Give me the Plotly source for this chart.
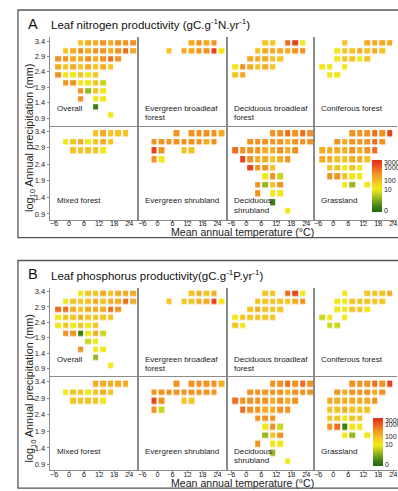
import numpy as np
import plotly.graph_objects as go

W, H = 398, 491

# ---------------- data ----------------
TEMP_BINS = [-4.5, -1.5, 1.5, 4.5, 7.5, 10.5, 13.5, 16.5, 19.5, 22.5, 25.5]   # mean annual temperature bin centres (°C)
PRECIP_BINS = [3.33, 3.07, 2.81, 2.55, 2.29, 2.03, 1.77, 1.51, 1.25, 0.99]     # log10 annual precipitation bin centres (top -> bottom)
X_TICKS = [-6, 0, 6, 12, 18, 24]
Y_TICKS = [0.9, 1.4, 1.9, 2.4, 2.9, 3.4]
Y_TICK_TEXT = ["0.9", "1.4", "1.9", "2.4", "2.9", "3.4"]
CBAR_VALUES = [0, 10, 100, 1000, 3000]
CBAR_LABELS = ["0", "10", "100", "1000", "3000"]

# productivity (code -> value)
LEVELS = {"R": 2500, "r": 750, "O": 330, "o": 160, "a": 70, "Y": 12, "y": 6, "g": 3, "G": 0.5}

BIOME_LABELS = [["Overall"], ["Evergreen broadleaf", "forest"], ["Deciduous broadleaf", "forest"],
                ["Coniferous forest"], ["Mixed forest"], ["Evergreen shrubland"],
                ["Deciduous", "shrubland"], ["Grassland"]]

# ---- A: leaf nitrogen productivity (rows = precipitation bins top->bottom, cols = temperature bins)
N_OVERALL = ["...aooOoOOO", ".aoOoOOoOro", "OOooOoOrO..", "oaoaoaoa...", "OYYaYa.....",
             ".OOYYay....", "...OgaY....", "...O.YY....", ".....G.....", ".......Y..."]
N_EBF = ["......oOoO.", "...a.ooOORY", "...........", "...........", "...........",
         "...........", "...........", "...........", "...........", "..........."]
N_DBF = ["....aa.rRY.", "...aooooOO.", "..oooaa....", "YOoaoa.....", "ao.........",
         "...........", "...........", "...........", "...........", "..........."]
N_CF = ["...a..oooo.", "..Yaaoaoa..", "..YaaYa....", "YY.Y.......", ".YY........",
        "...........", "...........", "...........", "...........", "..........."]
N_MF = [".....aoaaa.", ".YaoYaoa...", "..aaaaY....", "...........", "...........",
        "...........", "...........", "...........", "...........", "..........."]
N_ES = ["....O.OOOOo", ".OOOOOOOoO.", ".RO..aa....", ".OY........", "...........",
        "...........", "...........", "...........", "...........", "..........."]
N_DS = [".....OOrOrO", "..OOOOOoOOO", "rOOOooOoO..", ".ROooaoO...", "..ROOa.....",
        "....YOy....", "...OgaO....", "...O.YY....", ".....G.....", ".......Y..."]
N_GL = ["....OOOrOR.", "..OoOOOrO..", "ooooOoOr...", "ooaaooa....", ".aaYaY.....",
        ".OOaYY.....", "...Yg.Y....", "...........", "...........", "..........."]

# ---- B: leaf phosphorus productivity
P_OVERALL = ["...Yaaoaooo", ".Yaaaoaooro", "rroaooorO..", "Yaaoaaaa...", "YaYaYa.....",
             ".OOGYoy....", "....yY.....", "...O.YY....", ".....g.....", ".......Y..."]
P_EBF = ["......aoao.", "...a.aaooRY", "...........", "...........", "...........",
         "...........", "...........", "...........", "...........", "..........."]
P_DBF = ["....aa.rRY.", "...aaaaaoO.", "..aoaaa....", "Yaaaaa.....", "aY.........",
         "...........", "...........", "...........", "...........", "..........."]
P_CF = ["...Y..aaao.", "..YYaaaaa..", "..YYaaY....", "yY.Y.......", ".yy........",
        "...........", "...........", "...........", "...........", "..........."]
P_MF = [".....ooooo.", ".YaaYaoa...", "..aaaaY....", "...........", "...........",
        "...........", "...........", "...........", "...........", "..........."]
P_ES = ["....O.OOOOo", ".OOOOOOOOO.", ".RO..aa....", ".Oy........", "...........",
        "...........", "...........", "...........", "...........", "..........."]
P_DS = [".....OOrOrO", "..OOOOOoOOO", "rOOOOoOoO..", ".rOOooOO...", "...OOO.....",
        "....YOy....", "....gaO....", "...O.YY....", ".....g.....", ".......Y..."]
P_GL = ["....OOOrOR.", "..OoOOOoO..", ".ooooooO...", ".aaoaaa....", ".aaYaa.....",
        ".OrGYY.....", "...Yg.Y....", "...........", "...........", "..........."]

PANELS = [
    dict(letter="A", title="Leaf nitrogen productivity (gC.g<sup>-1</sup>N.yr<sup>-1</sup>)",
         grids=[N_OVERALL, N_EBF, N_DBF, N_CF, N_MF, N_ES, N_DS, N_GL]),
    dict(letter="B", title="Leaf phosphorus productivity(gC.g<sup>-1</sup>P.yr<sup>-1</sup>)",
         grids=[P_OVERALL, P_EBF, P_DBF, P_CF, P_MF, P_ES, P_DS, P_GL]),
]

# ---------------- colour mapping ----------------
KNOT_LOG = np.log10(1 + np.array(CBAR_VALUES, dtype=float))
KNOT_POS = [0.03, 0.44, 0.61, 0.86, 0.945]


def cpos(v):
    return float(np.interp(np.log10(1 + v), KNOT_LOG, KNOT_POS))


COLORSCALE = [[0.0, "#1f6a0e"], [0.1, "#3c7f12"], [0.25, "#8db01e"], [0.36, "#cad51e"],
              [0.44, "#f3ea18"], [0.55, "#f6cf22"], [0.62, "#f6b623"], [0.72, "#f39a21"],
              [0.83, "#ee6d1e"], [0.93, "#e8431c"], [1.0, "#e3301a"]]

FONT = "Liberation Sans, Arial, sans-serif"


def px_x(x):
    return x / W


def px_y(y):
    return 1 - y / H


# ---------------- layout geometry ----------------
COL_LEFT = [49.7, 138.3, 227.2, 314.5, W]
X_PX_PER_DEG = 2.51
X_MIN = -7.8
ROW_PX = [(37.0, 125.5), (125.5, 219.5)]
ROW_RANGE = [(0.657, 3.53), (0.734, 3.566)]
PANEL_OFFSET = [0.0, 250.5]

fig = go.Figure()
layout = dict(width=W, height=H, margin=dict(l=0, r=0, t=0, b=0),
              paper_bgcolor="white", plot_bgcolor="rgba(0,0,0,0)",
              showlegend=False, font=dict(family=FONT, color="#222"))
annotations = []
shapes = []

LINE_COL = "#8a8a8a"

for pi, panel in enumerate(PANELS):
    off = PANEL_OFFSET[pi]
    for si, grid in enumerate(panel["grids"]):
        r, c = divmod(si, 4)
        k = pi * 8 + si + 1
        xa = "x" if k == 1 else f"x{k}"
        ya = "y" if k == 1 else f"y{k}"
        z = [[(cpos(LEVELS[ch]) if ch != "." else None) for ch in row] for row in grid]
        show = (si == 7)
        cb = None
        if show:
            if pi == 0:
                cb = dict(x=px_x(372), y=px_y(186), len=52)
            else:
                cb = dict(x=px_x(373), y=px_y(442), len=48)
            cb.update(xanchor="left", yanchor="middle", xpad=0, ypad=0, lenmode="pixels",
                      thickness=10, thicknessmode="pixels", outlinewidth=0,
                      tickvals=[cpos(v) for v in CBAR_VALUES], ticktext=CBAR_LABELS,
                      ticks="", tickfont=dict(size=7, family=FONT, color="#222"))
        fig.add_trace(go.Heatmap(x=TEMP_BINS, y=PRECIP_BINS, z=z, xaxis=xa, yaxis=ya,
                                 zmin=0, zmax=1, colorscale=COLORSCALE, showscale=show,
                                 colorbar=cb, xgap=2, ygap=2.6, hoverinfo="skip"))
        x0, x1 = COL_LEFT[c], COL_LEFT[c + 1]
        y0, y1 = ROW_PX[r]
        xr = [X_MIN, X_MIN + (x1 - x0) / X_PX_PER_DEG]
        xkey = "xaxis" if k == 1 else f"xaxis{k}"
        ykey = "yaxis" if k == 1 else f"yaxis{k}"
        layout[xkey] = dict(domain=[px_x(x0), px_x(x1)], range=xr, anchor=ya,
                            showgrid=False, zeroline=False, showline=True, linecolor=LINE_COL,
                            linewidth=1, mirror=False,
                            tickvals=X_TICKS, showticklabels=(r == 1),
                            ticks="outside" if r == 1 else "", ticklen=2, tickcolor=LINE_COL,
                            ticklabelstandoff=-5,
                            tickfont=dict(size=7.3, family=FONT, color="#222"))
        layout[ykey] = dict(domain=[px_y(y1 + off), px_y(y0 + off)], range=list(ROW_RANGE[r]),
                            anchor=xa, showgrid=False, zeroline=False, showline=True,
                            linecolor=LINE_COL, linewidth=1, mirror=(c < 3),
                            tickvals=Y_TICKS, ticktext=Y_TICK_TEXT, showticklabels=(c == 0),
                            ticks="outside" if c == 0 else "", ticklen=2, tickcolor=LINE_COL,
                            tickfont=dict(size=7.5, family=FONT, color="#222"))
        # biome label
        lines = BIOME_LABELS[si]
        base_y = (108.5 if r == 0 else 200.8) + off
        for li, txt in enumerate(lines):
            annotations.append(dict(text=txt, x=px_x(x0 + 5.5), y=px_y(base_y + li * 9.2),
                                    xref="paper", yref="paper", xanchor="left", yanchor="middle",
                                    showarrow=False, font=dict(size=8, family=FONT, color="#222")))

    # panel letter and title
    annotations.append(dict(text=panel["letter"], x=px_x(26), y=px_y(23.5 + off), xref="paper",
                            yref="paper", xanchor="left", yanchor="middle", showarrow=False,
                            font=dict(size=14.5, family=FONT, color="#111")))
    annotations.append(dict(text=panel["title"], x=px_x(49.5), y=px_y(24 + off), xref="paper",
                            yref="paper", xanchor="left", yanchor="middle", showarrow=False,
                            font=dict(size=11.5, family=FONT, color="#111")))
    # axis titles
    annotations.append(dict(text="Mean annual temperature (°C)", x=px_x(243), y=px_y(232.3 + off),
                            xref="paper", yref="paper", xanchor="center", yanchor="middle",
                            showarrow=False, font=dict(size=10.6, family=FONT, color="#222")))
    annotations.append(dict(text="log<sub>10</sub> Annual precipitation (mm)", x=px_x(30),
                            y=px_y(138 + off), xref="paper", yref="paper", xanchor="center",
                            yanchor="middle", textangle=-90, showarrow=False,
                            font=dict(size=10.8, family=FONT, color="#222")))
    # panel frame
    shapes.append(dict(type="rect", xref="paper", yref="paper", x0=px_x(18), x1=px_x(430),
                       y0=px_y(237.7 + off), y1=px_y(10 + off),
                       line=dict(color="#555", width=1.3), fillcolor="rgba(0,0,0,0)", layer="below"))

layout["annotations"] = annotations
layout["shapes"] = shapes
fig.update_layout(**layout)
fig.write_html("out.html", config={"displayModeBar": False},
               post_script="document.body.style.margin='0';document.body.style.overflow='hidden';")
